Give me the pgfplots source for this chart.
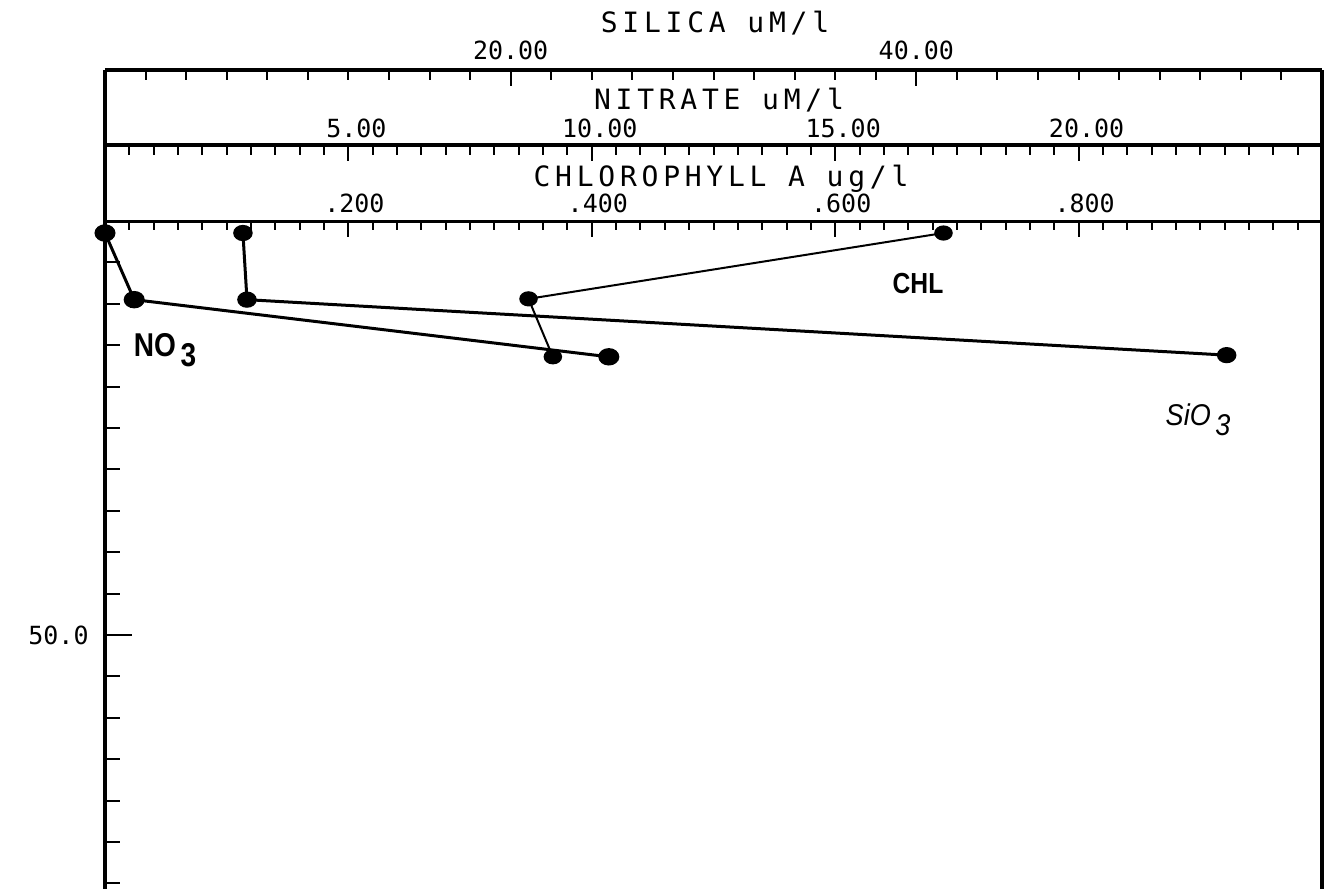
\documentclass[border=0pt]{standalone}
\usepackage{pgfplots}
\pgfplotsset{compat=1.18}
\usepackage{fontspec}
\setmainfont{DejaVu Sans Mono}
\newfontfamily\titlefont[LetterSpace=17]{DejaVu Sans Mono}
\newfontfamily\labfont{Liberation Sans}
\begin{document}
\begin{tikzpicture}
\pgfplotsset{
  common/.style={scale only axis, width=608.5pt, tick align=inside,
    tick style={line width=1pt, black},
    font=\fontsize{12.5}{14}\selectfont, separate axis lines,
    x axis line style={line width=1.5pt}, y axis line style={line width=2pt}},
  topbox/.style={common, xtick pos=right, xticklabel pos=right, ytick=\empty,
    major tick length=8pt, minor tick length=5pt, ymin=0, ymax=1},
  overlay/.style={common, height=414pt, at={(0,0)}, anchor=north west,
    ymin=0, ymax=100, y dir=reverse, clip=false}
}
% silica scale box
\begin{axis}[topbox, height=37.5pt, at={(0,38pt)}, anchor=south west,
  xmin=0, xmax=60, xtick={20,40}, xticklabels={20.00,40.00},
  minor xtick={2,4,...,58}, xticklabel style={anchor=base, yshift=5pt},
  x axis line style={line width=2pt}]
\end{axis}
% nitrate scale box
\begin{axis}[topbox, height=38pt, at={(0,0)}, anchor=south west,
  xmin=0, xmax=25, xtick={5,10,15,20}, xticklabels={5.00,10.00,15.00,20.00},
  minor xtick={0.5,1,...,24.5}, xticklabel style={anchor=base, yshift=3.5pt, xshift=4pt}]
\end{axis}
% main axis: chlorophyll
\begin{axis}[overlay, xmin=0, xmax=1, xtick pos=right, xticklabel pos=right,
  xtick={0.2,0.4,0.6,0.8}, xticklabels={.200,.400,.600,.800},
  minor xtick={0.02,0.04,...,0.98}, major tick length=8pt, minor tick length=4.5pt,
  ytick=\empty, xticklabel style={anchor=base, yshift=4.5pt, xshift=3pt}]
\addplot[black, line width=1pt, mark=*, mark size=3.3pt, mark options={xscale=1.25}]
  coordinates {(0.689,1.45) (0.348,9.4) (0.368,16.4)};
\end{axis}
% nitrate data + depth ticks
\begin{axis}[overlay, xmin=0, xmax=25, hide x axis, ytick pos=left,
  ytick={50}, yticklabels={50.0}, minor ytick={5,10,...,95},
  major tick length=13.5pt, minor tick length=7.5pt,
  yticklabel style={anchor=east, inner sep=0pt, xshift=-8pt}]
\addplot[black, line width=1.5pt, mark=*, mark size=3.6pt, mark options={xscale=1.25}]
  coordinates {(0.0,1.45) (0.6,9.5) (10.35,16.4)};
\end{axis}
% silica data
\begin{axis}[overlay, xmin=0, xmax=60, hide axis]
\addplot[black, line width=1.5pt, mark=*, mark size=3.3pt, mark options={xscale=1.25}]
  coordinates {(6.8,1.45) (7.0,9.5) (55.3,16.2)};
\end{axis}
% titles
\begin{scope}[every node/.style={font=\titlefont\fontsize{14}{16}\selectfont}]
\node[anchor=base] at (305pt,94pt) {SILICA uM/l};
\node[anchor=base] at (307pt,56pt) {NITRATE uM/l};
\node[anchor=base] at (308pt,17pt) {CHLOROPHYLL A ug/l};
\end{scope}
% series labels
\node[font=\labfont\bfseries\fontsize{16.5}{18}\selectfont, xscale=0.85] at (30pt,-64.5pt) {NO\raisebox{-0.6ex}{\,3}};
\node[font=\labfont\bfseries\fontsize{14.5}{16}\selectfont, xscale=0.85] at (406.5pt,-31.5pt) {CHL};
\node[font=\labfont\itshape\fontsize{15}{17}\selectfont, xscale=0.9] at (546.5pt,-99.5pt) {SiO\raisebox{-0.6ex}{\,3}};
\pgfresetboundingbox
\useasboundingbox (-52.5pt,-334pt) rectangle (612pt,110.5pt);
\end{tikzpicture}
\end{document}
